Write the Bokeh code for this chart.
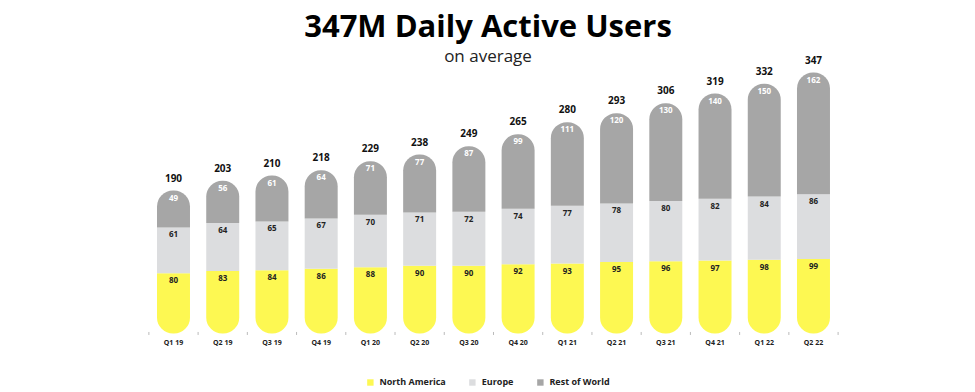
import numpy as np
from bokeh.plotting import figure
from bokeh.models import Range1d, Label, Legend, LegendItem, ColumnDataSource
from bokeh.core.properties import value
from bokeh.embed import file_html
from bokeh.resources import INLINE

quarters = ["Q1 19", "Q2 19", "Q3 19", "Q4 19", "Q1 20", "Q2 20", "Q3 20",
            "Q4 20", "Q1 21", "Q2 21", "Q3 21", "Q4 21", "Q1 22", "Q2 22"]
north_america = [80, 83, 84, 86, 88, 90, 90, 92, 93, 95, 96, 97, 98, 99]
europe = [61, 64, 65, 67, 70, 71, 72, 74, 77, 78, 80, 82, 84, 86]
rest_of_world = [49, 56, 61, 64, 71, 77, 87, 99, 111, 120, 130, 140, 150, 162]
totals = [190, 203, 210, 218, 229, 238, 249, 265, 280, 293, 306, 319, 332, 347]

FONT = "Open Sans"
YELLOW = "#FDF852"
LIGHT = "#DCDDDF"
DARK = "#A6A6A6"

W, H = 975, 392
x = np.arange(len(quarters))
na = np.array(north_america)
eu = np.array(europe)
rw = np.array(rest_of_world)
top_na = na
top_eu = na + eu
top_rw = na + eu + rw

src = ColumnDataSource(dict(
    x=x, q=quarters,
    top_na=top_na, top_eu=top_eu, top_rw=top_rw,
    na_lbl=[str(v) for v in north_america],
    eu_lbl=[str(v) for v in europe],
    rw_lbl=[str(v) for v in rest_of_world],
    tot=[str(v) for v in totals],
    zero=np.zeros(len(x)),
))

p = figure(width=W, height=H, output_backend="svg", toolbar_location=None,
           x_range=Range1d(-3.514, 16.291), y_range=Range1d(-78.5, 442.8),
           min_border=0, outline_line_color=None)
p.axis.visible = False
p.grid.visible = False
p.background_fill_color = "white"
p.border_fill_color = "white"

bw = 0.67
r_na = p.vbar(x="x", bottom=0, top="top_na", width=bw, source=src,
              fill_color=YELLOW, line_color=None, border_radius=(0, 0, 16, 16))
r_eu = p.vbar(x="x", bottom="top_na", top="top_eu", width=bw, source=src,
              fill_color=LIGHT, line_color=None)
r_rw = p.vbar(x="x", bottom="top_eu", top="top_rw", width=bw, source=src,
              fill_color=DARK, line_color=None, border_radius=(16, 16, 0, 0))

common = dict(source=src, text_align="center", text_baseline="middle",
              text_font=value(FONT), text_font_style="bold")
p.text(x="x", y="top_na", text="na_lbl", y_offset=7, text_font_size="8px",
       text_color="#222222", **common)
p.text(x="x", y="top_eu", text="eu_lbl", y_offset=7, text_font_size="8px",
       text_color="#222222", **common)
p.text(x="x", y="top_rw", text="rw_lbl", y_offset=7, text_font_size="8px",
       text_color="#FFFFFF", **common)
p.text(x="x", y="top_rw", text="tot", y_offset=-13, text_font_size="10px",
       text_color="#111111", **common)
p.text(x="x", y="zero", text="q", y_offset=9, text_font_size="7px",
       text_color="#222222", **common)

# small tick marks at category boundaries
edges = np.arange(len(quarters) + 1) - 0.5
p.scatter(x=edges, y=np.zeros(len(edges)), marker="dash", angle=np.pi / 2,
          size=3, line_color="#BBBBBB", line_width=1)

p.add_layout(Label(x=W / 2, y=H - 24, x_units="screen", y_units="screen",
                   text="347M Daily Active Users", text_align="center",
                   text_baseline="alphabetic", text_font=FONT,
                   text_font_style="bold", text_font_size="31px",
                   text_color="#000000"))
p.add_layout(Label(x=W / 2, y=H - 55, x_units="screen", y_units="screen",
                   text="on average", text_align="center",
                   text_baseline="alphabetic", text_font=FONT,
                   text_font_size="17px", text_color="#222222"))

legend = Legend(items=[
    LegendItem(label="North America", renderers=[r_na]),
    LegendItem(label="Europe", renderers=[r_eu]),
    LegendItem(label="Rest of World", renderers=[r_rw]),
], orientation="horizontal", location="bottom_center",
    glyph_width=8, glyph_height=8, label_standoff=6, spacing=22,
    label_text_font=FONT, label_text_font_style="bold",
    label_text_font_size="9px", label_text_color="#222222",
    label_height=10, padding=0, margin=4, border_line_color=None,
    background_fill_alpha=0)
p.add_layout(legend)

open("out.html", "w").write(file_html(p, INLINE))
